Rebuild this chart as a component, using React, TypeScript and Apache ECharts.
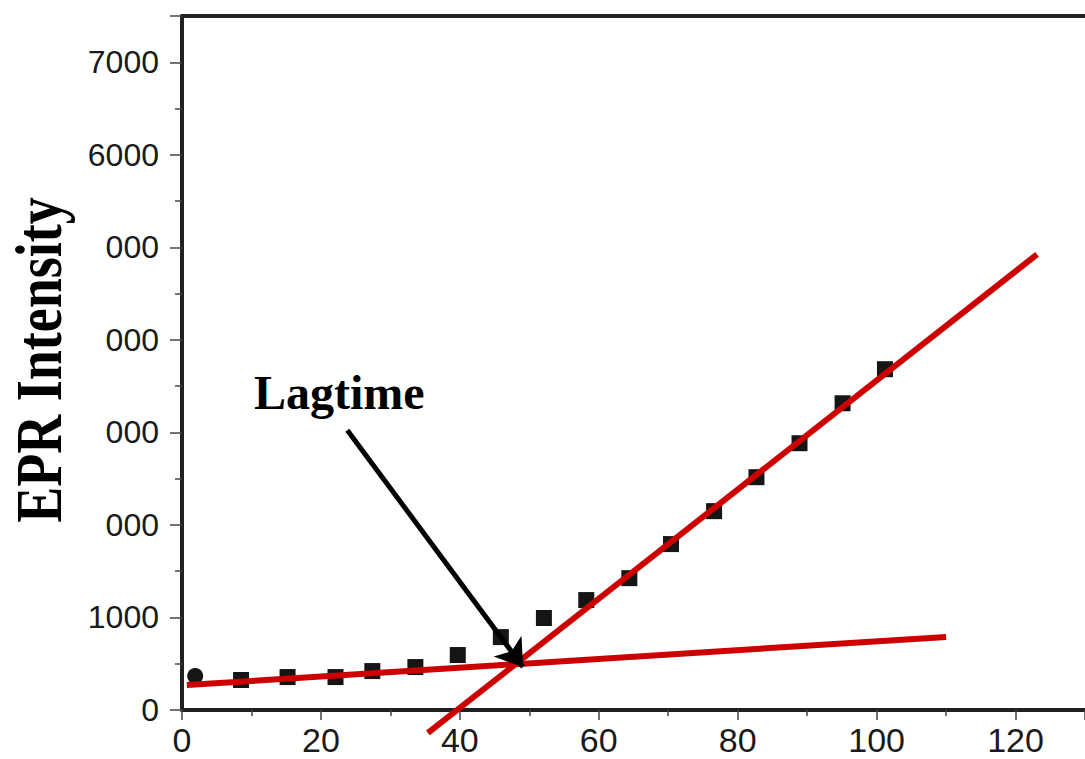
import React, { useEffect, useRef } from "react";
import * as echarts from "echarts";

// Reaction time (min) and measured EPR intensity
const timeMin = [1.9, 8.5, 15.2, 22.1, 27.4, 33.6, 39.7, 45.9, 52.1, 58.2, 64.4, 70.4, 76.6, 82.7, 88.9, 95.1, 101.2];
const eprIntensity = [367, 324, 356, 356, 421, 464, 594, 788, 994, 1188, 1425, 1793, 2149, 2516, 2883, 3315, 3683];

// Linear fits: slow initial phase and fast propagation phase
const baselineFitX = [0.7, 110];
const baselineFitY = [270, 790];
const growthFitX = [35.4, 123.1];
const growthFitY = [-248, 4924];

// Arrow pointing at the intersection of the two fits (start, tip)
const lagArrowFrom = [23.8, 3024];
const lagArrowTo = [49.1, 464];

const xTickValues = [0, 20, 40, 60, 80, 100, 120];
const yTickLabels = ["0", "1000", "000", "000", "000", "000", "6000", "7000"];

const AXIS_COLOR = "#231f20";
const TEXT_COLOR = "#1a1a1a";
const FIT_COLOR = "#cc0000";

export default function App() {
  const ref = useRef<HTMLDivElement>(null);

  useEffect(() => {
    if (!ref.current) return;
    const chart = echarts.init(ref.current, undefined, { renderer: "svg" });

    const points = timeMin.map((t, i) => ({
      value: [t, eprIntensity[i]],
      symbol: i === 0 ? "circle" : "rect",
    }));

    chart.setOption({
      animation: false,
      backgroundColor: "#ffffff",
      grid: { left: 182, right: 0, top: 16, bottom: 49, containLabel: false },
      xAxis: [
        {
          type: "value",
          position: "bottom",
          min: 0,
          max: 130,
          interval: 20,
          axisLine: { show: true, lineStyle: { color: AXIS_COLOR, width: 4 } },
          axisTick: { show: true, length: 10, lineStyle: { color: "#444", width: 1.5 } },
          minorTick: { show: true, splitNumber: 2, length: 6, lineStyle: { color: "#444", width: 1.5 } },
          splitLine: { show: false },
          axisLabel: {
            show: true,
            margin: 13,
            fontSize: 34,
            fontFamily: "Liberation Sans",
            color: TEXT_COLOR,
            showMaxLabel: false,
            formatter: (v: number) => (xTickValues.includes(v) ? String(v) : ""),
          },
        },
        {
          type: "value",
          position: "top",
          min: 0,
          max: 130,
          interval: 20,
          axisLine: { show: true, lineStyle: { color: AXIS_COLOR, width: 4 } },
          axisTick: { show: false },
          axisLabel: { show: false },
          splitLine: { show: false },
        },
      ],
      yAxis: {
        type: "value",
        min: 0,
        max: 7500,
        interval: 1000,
        axisLine: { show: true, lineStyle: { color: AXIS_COLOR, width: 4 } },
        axisTick: { show: true, length: 12, lineStyle: { color: "#444", width: 1.5 } },
        minorTick: { show: true, splitNumber: 2, length: 7, lineStyle: { color: "#444", width: 1.5 } },
        splitLine: { show: false },
        axisLabel: {
          show: true,
          margin: 23,
          fontSize: 32,
          fontFamily: "Liberation Sans",
          color: TEXT_COLOR,
          showMaxLabel: false,
          formatter: (v: number) => {
            const idx = Math.round(v / 1000);
            return v % 1000 === 0 && idx < yTickLabels.length ? yTickLabels[idx] : "";
          },
        },
      },
      graphic: [
        {
          type: "text",
          x: 39,
          y: 360,
          rotation: Math.PI / 2,
          scaleY: 1.2,
          style: {
            text: "EPR Intensity",
            fontFamily: "Liberation Serif",
            fontWeight: "bold",
            fontSize: 54,
            fill: "#000",
            textAlign: "center",
            textVerticalAlign: "middle",
          },
        },
        {
          type: "text",
          x: 254,
          y: 392,
          style: {
            text: "Lagtime",
            fontFamily: "Liberation Serif",
            fontWeight: "bold",
            fontSize: 48,
            fill: "#000",
            textAlign: "left",
            textVerticalAlign: "middle",
          },
        },
      ],
      series: [
        {
          type: "line",
          name: "baseline fit",
          data: baselineFitX.map((x, i) => [x, baselineFitY[i]]),
          showSymbol: false,
          symbol: "none",
          clip: false,
          lineStyle: { color: FIT_COLOR, width: 6 },
          z: 3,
        },
        {
          type: "line",
          name: "growth fit",
          data: growthFitX.map((x, i) => [x, growthFitY[i]]),
          showSymbol: false,
          symbol: "none",
          clip: false,
          lineStyle: { color: FIT_COLOR, width: 6 },
          z: 3,
        },
        {
          type: "scatter",
          name: "EPR intensity",
          data: points,
          symbolSize: 16,
          itemStyle: { color: "#151515", opacity: 1 },
          z: 2,
          markLine: {
            silent: true,
            symbol: ["none", "arrow"],
            symbolSize: 26,
            lineStyle: { color: "#000", width: 5, type: "solid", opacity: 1 },
            itemStyle: { color: "#000" },
            label: { show: false },
            data: [[{ coord: lagArrowFrom }, { coord: lagArrowTo }]],
            z: 4,
          },
        },
      ],
    });

    return () => chart.dispose();
  }, []);

  return (
    <div
      ref={ref}
      style={{ position: "absolute", left: 0, top: 0, width: 1085, height: 759 }}
    />
  );
}
